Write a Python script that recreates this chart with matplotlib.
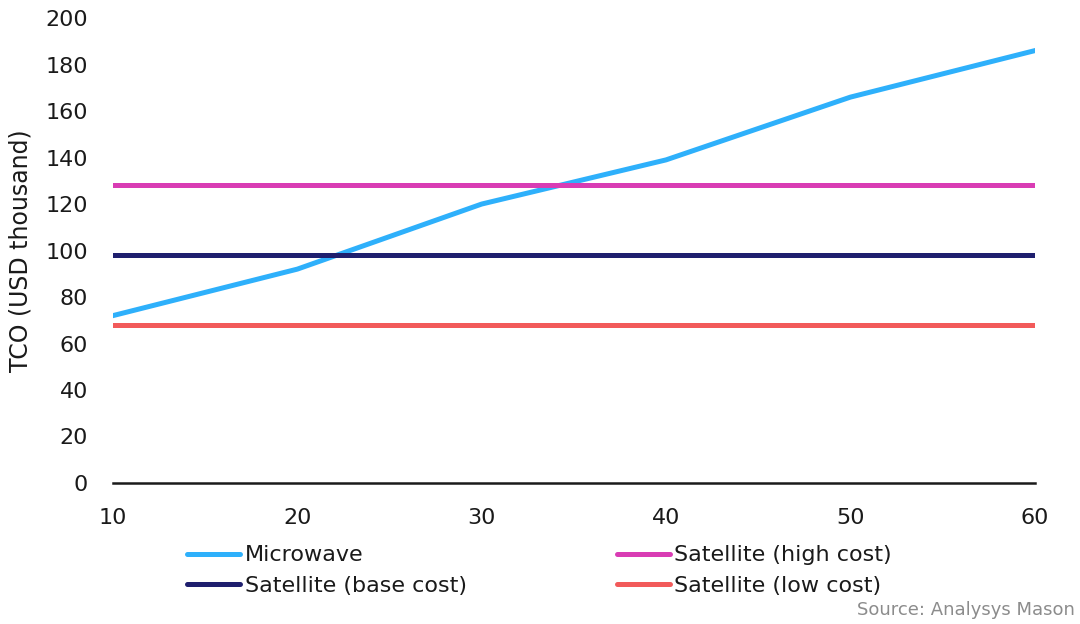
import matplotlib.pyplot as plt

plt.rcParams['font.family'] = ['DejaVu Sans']

# sites / hops on x axis
x_vals = [10, 20, 30, 40, 50, 60]
microwave = [72, 92, 120, 139, 166, 186]
sat_high = [128, 128, 128, 128, 128, 128]
sat_base = [98, 98, 98, 98, 98, 98]
sat_low = [68, 68, 68, 68, 68, 68]

fig = plt.figure(figsize=(10.8, 6.24), dpi=100)
ax = fig.add_axes([0.1046, 0.226, 0.8535, 0.745])

lw = 3.6
l_mw, = ax.plot(x_vals, microwave, color='#2eb0fb', lw=lw, label='Microwave')
l_hi, = ax.plot(x_vals, sat_high, color='#d93cb4', lw=lw, label='Satellite (high cost)')
l_base, = ax.plot(x_vals, sat_base, color='#1f1f6e', lw=lw, label='Satellite (base cost)')
l_low, = ax.plot(x_vals, sat_low, color='#f25a5a', lw=lw, label='Satellite (low cost)')

ax.set_xlim(10, 60)
ax.set_ylim(0, 200)
ax.set_xticks([10, 20, 30, 40, 50, 60])
ax.set_yticks(range(0, 201, 20))
ax.tick_params(length=0, labelsize=16, colors='#1a1a1a')
ax.tick_params(axis='y', pad=18)
ax.tick_params(axis='x', pad=18)
for s in ['top', 'right', 'left']:
    ax.spines[s].set_visible(False)
ax.spines['bottom'].set_linewidth(1.8)
ax.spines['bottom'].set_color('#1a1a1a')
ax.set_ylabel('TCO (USD thousand)', fontsize=17, color='#1a1a1a', labelpad=9)

leg = fig.legend([l_mw, l_base, l_hi, l_low],
                 ['Microwave', 'Satellite (base cost)', 'Satellite (high cost)', 'Satellite (low cost)'],
                 ncol=2, loc='upper left', bbox_to_anchor=(0.173, 0.126),
                 frameon=False, fontsize=16, handlelength=2.4, handletextpad=0.2,
                 columnspacing=6.75, labelspacing=0.48, borderaxespad=0, borderpad=0)
for t in leg.get_texts():
    t.set_color('#1a1a1a')
for h in leg.legend_handles:
    h.set_solid_capstyle('round')

fig.text(0.995, 0.008, 'Source: Analysys Mason', ha='right', va='bottom',
         fontsize=13, color='#8c8c8c')

fig.savefig('out.png', dpi=100)
